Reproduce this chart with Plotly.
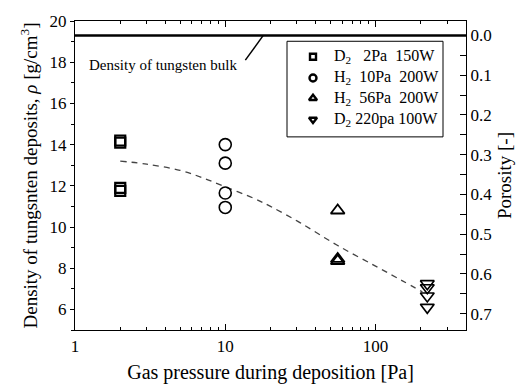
import plotly.graph_objects as go

# ---- data ----
d2_2pa_x = [2, 2, 2, 2]
d2_2pa_y = [14.2, 14.1, 11.9, 11.75]
h2_10pa_x = [10, 10, 10, 10]
h2_10pa_y = [14.0, 13.1, 11.65, 10.95]
h2_56pa_x = [56, 56, 56]
h2_56pa_y = [10.8, 8.45, 8.35]
d2_220pa_x = [221, 221, 221, 221]
d2_220pa_y = [7.25, 7.05, 6.65, 6.1]
fit_x = [2, 3, 5, 7, 10, 15.4, 20, 31.6, 56, 100, 150, 205]
fit_y = [13.2, 13.05, 12.75, 12.4, 11.95, 11.4, 11.0, 10.2, 9.1, 8.1, 7.4, 6.85]
bulk_density = 19.3
pointer_x = [13.6, 17.9]
pointer_y = [18.1, 19.3]
legend_names = ["D<sub>2</sub>\u00a0\u00a0 2Pa\u00a0 150W",
                "H<sub>2</sub>\u00a0 10Pa\u00a0 200W",
                "H<sub>2</sub>\u00a0 56Pa\u00a0 200W",
                "D<sub>2</sub>\u00a0220pa 100W"]
porosity_ticks = [0.0, 0.1, 0.2, 0.3, 0.4, 0.5, 0.6, 0.7]

FONT = "Liberation Serif"

# plot-area geometry in pixels (for the hand-made legend box)
L, R, T, B = 75, 466, 16, 336
def px(x):
    return (x - L) / (R - L)
def py(y):
    return 1 - (y - T) / (B - T)

legend_rows_px = [53, 75, 96, 118]

fig = go.Figure()

# bulk line
fig.add_trace(go.Scatter(x=[1, 400], y=[bulk_density, bulk_density], mode="lines",
                         line=dict(color="black", width=2.5), showlegend=False, hoverinfo="skip"))
fig.add_trace(go.Scatter(x=pointer_x, y=pointer_y, mode="lines",
                         line=dict(color="black", width=1.5), showlegend=False, hoverinfo="skip"))
# fit
fig.add_trace(go.Scatter(x=fit_x, y=fit_y, mode="lines", line=dict(color="#444", width=1.3, dash="6px,5px"),
                         line_shape="spline", showlegend=False, hoverinfo="skip"))

series = [
    (d2_2pa_x, d2_2pa_y, "square-open", 2.2, 10),
    (h2_10pa_x, h2_10pa_y, "circle-open", 1.6, 12),
    (h2_56pa_x, h2_56pa_y, "triangle-up-open", 1.8, 12),
    (d2_220pa_x, d2_220pa_y, "triangle-down-open", 1.6, 12),
]
for (xs, ys, sym, lw, sz), name in zip(series, legend_names):
    fig.add_trace(go.Scatter(x=xs, y=ys, mode="markers", name=name, showlegend=False,
                             marker=dict(symbol=sym, size=sz, color="black", line=dict(color="black", width=lw))))

# legend box: frame, symbols on a hidden unit overlay axis, labels as annotations
fig.add_shape(type="rect", xref="paper", yref="paper",
              x0=px(287), x1=px(443), y0=py(136), y1=py(37),
              line=dict(color="black", width=1), fillcolor="white", layer="below")
for (xs, ys, sym, lw, sz), name, ry in zip(series, legend_names, legend_rows_px):
    fig.add_trace(go.Scatter(x=[px(313)], y=[py(ry)], xaxis="x2", yaxis="y3", mode="markers",
                             showlegend=False, hoverinfo="skip",
                             marker=dict(symbol=sym, size=7 if sym != "square-open" else 6,
                                         color="black", line=dict(color="black", width=2.4))))
    fig.add_annotation(text=name, xref="paper", yref="paper", x=px(332), y=py(ry),
                       xanchor="left", yanchor="middle", showarrow=False,
                       font=dict(family=FONT, size=16, color="black"))

# invisible trace for the right axis
fig.add_trace(go.Scatter(x=[1], y=[0], yaxis="y2", mode="markers", marker=dict(opacity=0),
                         showlegend=False, hoverinfo="skip"))

fig.add_annotation(text="Density of tungsten bulk", xref="paper", yref="paper",
                   x=0.03, y=0.857, xanchor="left", yanchor="middle", showarrow=False,
                   font=dict(family=FONT, size=15, color="black"))

minor_x = [2, 3, 4, 5, 6, 7, 8, 9, 20, 30, 40, 50, 60, 70, 80, 90, 200, 300]
fig.update_layout(
    width=524, height=392,
    margin=dict(l=L, r=524 - R, t=T, b=392 - B),
    paper_bgcolor="white", plot_bgcolor="white",
    font=dict(family=FONT, size=17, color="black"),
    showlegend=False,
    xaxis=dict(type="log", range=[0, 2.602], showgrid=False, zeroline=False,
               showline=True, linecolor="black", linewidth=1.2, mirror="ticks",
               ticks="inside", ticklen=6, tickcolor="black", tickwidth=1,
               tickvals=[1, 10, 100], ticktext=["1", "10", "100"],
               minor=dict(tickvals=minor_x, ticks="inside", ticklen=3, tickcolor="black"),
               title=dict(text="Gas pressure during deposition [Pa]", font=dict(size=20), standoff=10)),
    xaxis2=dict(overlaying="x", range=[0, 1], visible=False, fixedrange=True),
    yaxis=dict(range=[5, 20], showgrid=False, zeroline=False, showline=True, linecolor="black",
               linewidth=1.2, ticks="outside", ticklen=4, tickcolor="black",
               tickvals=[6, 8, 10, 12, 14, 16, 18, 20],
               minor=dict(dtick=1, ticks="outside", ticklen=3, tickcolor="black"),
               title=dict(text="Density of tungsnten deposits, <i>ρ</i> [g/cm<sup>3</sup>]",
                          font=dict(size=19), standoff=6)),
    yaxis2=dict(overlaying="y", side="right", range=[1 - 5 / bulk_density, 1 - 20 / bulk_density],
                showgrid=False, zeroline=False, showline=True, linecolor="black", linewidth=1.2,
                ticks="inside", ticklen=6, tickcolor="black", tickvals=porosity_ticks,
                ticktext=[f"{v:.1f}" for v in porosity_ticks],
                minor=dict(tickvals=[0.05, 0.15, 0.25, 0.35, 0.45, 0.55, 0.65], ticks="inside",
                           ticklen=6, tickcolor="black"),
                title=dict(text="Porosity [-]", font=dict(size=19), standoff=6)),
    yaxis3=dict(overlaying="y", range=[0, 1], visible=False, fixedrange=True),
)

fig.write_html("out.html")
